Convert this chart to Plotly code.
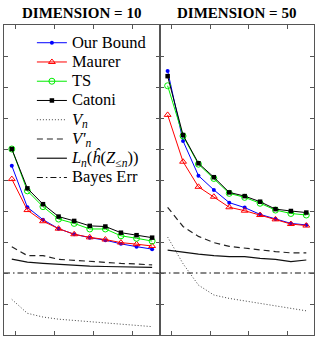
import plotly.graph_objects as go

# ---- data ----
n_points = [1, 2, 3, 4, 5, 6, 7, 8, 9, 10]
x_ticks = [1.25, 3.75, 6.25, 8.75]
y_ticks = [0, 1, 2, 3, 4, 5, 6, 7, 8, 9, 10]
titles = ["DIMENSION = 10", "DIMENSION = 50"]

our_10 = [5.46, 4.12, 3.72, 3.43, 3.25, 3.14, 3.06, 2.94, 2.85, 2.77]
maurer_10 = [5.03, 4.03, 3.67, 3.43, 3.25, 3.15, 3.08, 2.98, 2.93, 2.87]
ts_10 = [6.00, 4.65, 4.14, 3.74, 3.60, 3.42, 3.42, 3.20, 3.12, 3.03]
catoni_10 = [6.00, 4.73, 4.22, 3.82, 3.68, 3.52, 3.50, 3.30, 3.22, 3.14]
vn_10 = [1.15, 0.70, 0.58, 0.51, 0.47, 0.43, 0.39, 0.35, 0.31, 0.27]
vnp_10 = [2.85, 2.56, 2.56, 2.44, 2.41, 2.37, 2.34, 2.31, 2.29, 2.26]
ln_10 = [2.45, 2.35, 2.31, 2.28, 2.23, 2.22, 2.21, 2.20, 2.19, 2.18]
bayes_10 = 2.0

our_50 = [8.52, 6.26, 5.14, 4.68, 4.27, 4.11, 3.89, 3.74, 3.60, 3.55]
maurer_50 = [7.10, 5.59, 4.78, 4.46, 4.12, 4.01, 3.87, 3.73, 3.58, 3.53]
ts_50 = [8.04, 6.42, 5.51, 5.05, 4.57, 4.44, 4.25, 4.03, 3.92, 3.87]
catoni_50 = [8.35, 6.45, 5.54, 5.09, 4.60, 4.48, 4.30, 4.06, 4.00, 3.95]
vn_50 = [3.16, 2.30, 1.61, 1.29, 1.18, 1.11, 1.02, 0.94, 0.86, 0.78]
vnp_50 = [4.12, 3.50, 3.18, 2.98, 2.86, 2.80, 2.74, 2.69, 2.65, 2.65]
ln_50 = [2.74, 2.67, 2.61, 2.56, 2.53, 2.53, 2.47, 2.44, 2.37, 2.42]
bayes_50 = 2.0

x_range = [0.5, 10.5]
y_range = [0, 10]

SERIF = "Liberation Serif, Times New Roman, DejaVu Serif, serif"

label_texts = ["Our Bound", "Maurer", "TS", "Catoni",
               "<i>V</i><sub><i>n</i></sub>", "<i>V'</i><sub><i>n</i></sub>",
               "<i>L</i><sub><i>n</i></sub>(<i>\u0125</i>(<i>Z</i><sub>\u2264<i>n</i></sub>))",
               "Bayes Err"]
names = ['<span style="font-size:16.5px">' + t + '</span>' for t in label_texts]

styles = [
    dict(mode="lines+markers", line=dict(color="#0000ff", width=1),
         marker=dict(symbol="circle", size=4, color="#0000ff")),
    dict(mode="lines+markers", line=dict(color="#ff0000", width=1),
         marker=dict(symbol="triangle-up-open", size=6, color="#ff0000", line=dict(width=1))),
    dict(mode="lines+markers", line=dict(color="#00ee00", width=1),
         marker=dict(symbol="circle-open", size=6, color="#00ee00", line=dict(width=1))),
    dict(mode="lines+markers", line=dict(color="#000000", width=1),
         marker=dict(symbol="square", size=4.5, color="#000000")),
    dict(mode="lines", line=dict(color="#444444", width=1, dash="1px,2px")),
    dict(mode="lines", line=dict(color="#222222", width=1.2, dash="6px,4px")),
    dict(mode="lines", line=dict(color="#111111", width=1.2)),
    dict(mode="lines", line=dict(color="#111111", width=1.2, dash="6px,3px,1.5px,3px")),
]

panels = [
    [our_10, maurer_10, ts_10, catoni_10, vn_10, vnp_10, ln_10, bayes_10],
    [our_50, maurer_50, ts_50, catoni_50, vn_50, vnp_50, ln_50, bayes_50],
]

fig = go.Figure()
for p, series in enumerate(panels):
    xa = "x" if p == 0 else "x2"
    ya = "y" if p == 0 else "y2"
    for i, s in enumerate(series):
        if i == 7:
            xs = x_range
            ys = [s, s]
        else:
            xs = n_points
            ys = s
        fig.add_trace(go.Scatter(x=xs, y=ys, name=names[i], xaxis=xa, yaxis=ya,
                                 showlegend=(p == 0), cliponaxis=True, **styles[i]))

axis_common = dict(showgrid=False, zeroline=False, showline=True, mirror="ticks",
                   linecolor="#555555", linewidth=1, ticks="inside", ticklen=4,
                   tickcolor="#555555", tickwidth=1, showticklabels=False)

split = 0.503
fig.update_layout(
    width=317, height=339,
    margin=dict(l=4, r=3, t=25, b=4),
    plot_bgcolor="white", paper_bgcolor="white",
    font=dict(family=SERIF),
    xaxis=dict(domain=[0, split], range=x_range, tickvals=x_ticks, **axis_common),
    yaxis=dict(domain=[0, 1], range=y_range, tickvals=y_ticks, **axis_common),
    xaxis2=dict(domain=[split, 1], range=x_range, tickvals=x_ticks, anchor="y2", **axis_common),
    yaxis2=dict(domain=[0, 1], range=y_range, tickvals=y_ticks, anchor="x2", **axis_common),
    legend=dict(x=0.09, y=0.99, xanchor="left", yanchor="top",
                bgcolor="rgba(255,255,255,0)", borderwidth=0,
                font=dict(family=SERIF, size=12.5, color="black"),
                itemwidth=30, tracegroupgap=0),
    showlegend=True,
)

for p, t in enumerate(titles):
    cx = split / 2 if p == 0 else (split + 1) / 2
    fig.add_annotation(text="<b>" + t + "</b>", x=cx, y=1, xref="paper", yref="paper",
                       xanchor="center", yanchor="bottom", yshift=2, showarrow=False,
                       font=dict(family=SERIF, size=15, color="black"))

fig.write_html("out.html")
